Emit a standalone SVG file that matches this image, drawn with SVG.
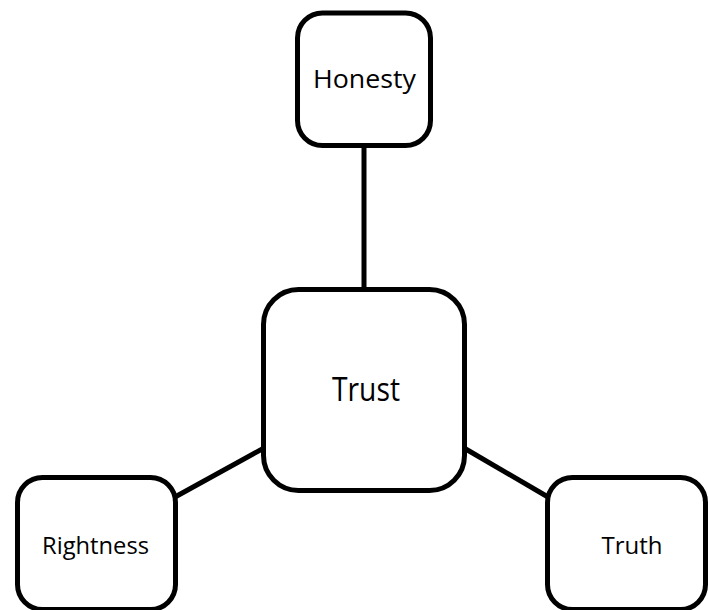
<svg xmlns="http://www.w3.org/2000/svg" width="708" height="610" viewBox="0 0 708 610">
  <style>
    .box { fill: #ffffff; stroke: #000000; stroke-width: 5; }
    .lbl { font-family: "Open Sans", "Liberation Sans", sans-serif; fill: #000000; text-anchor: middle; }
    .conn { stroke: #000000; stroke-width: 5; fill: none; }
  </style>
  <rect width="708" height="610" fill="#ffffff"/>
  <g id="connectors">
    <line class="conn" x1="364" y1="146" x2="364" y2="290"/>
    <line class="conn" x1="264" y1="448" x2="175" y2="497"/>
    <line class="conn" x1="464" y1="448" x2="548" y2="497"/>
  </g>
  <g id="node-honesty">
    <rect class="box" x="297.5" y="13" width="133" height="132.5" rx="25" ry="25"/>
    <text class="lbl" x="364.5" y="88" font-size="26" textLength="103" lengthAdjust="spacingAndGlyphs">Honesty</text>
  </g>
  <g id="node-trust">
    <rect class="box" x="263.5" y="289.5" width="201" height="201" rx="35" ry="35"/>
    <text class="lbl" x="366" y="401" font-size="32" textLength="68" lengthAdjust="spacingAndGlyphs">Trust</text>
  </g>
  <g id="node-rightness">
    <rect class="box" x="17.5" y="477.5" width="158" height="132" rx="25" ry="25"/>
    <text class="lbl" x="95.5" y="554" font-size="24.5" textLength="107" lengthAdjust="spacingAndGlyphs">Rightness</text>
  </g>
  <g id="node-truth">
    <rect class="box" x="547.5" y="477.5" width="158" height="132" rx="25" ry="25"/>
    <text class="lbl" x="632" y="554" font-size="24.5" textLength="61" lengthAdjust="spacingAndGlyphs">Truth</text>
  </g>
</svg>
